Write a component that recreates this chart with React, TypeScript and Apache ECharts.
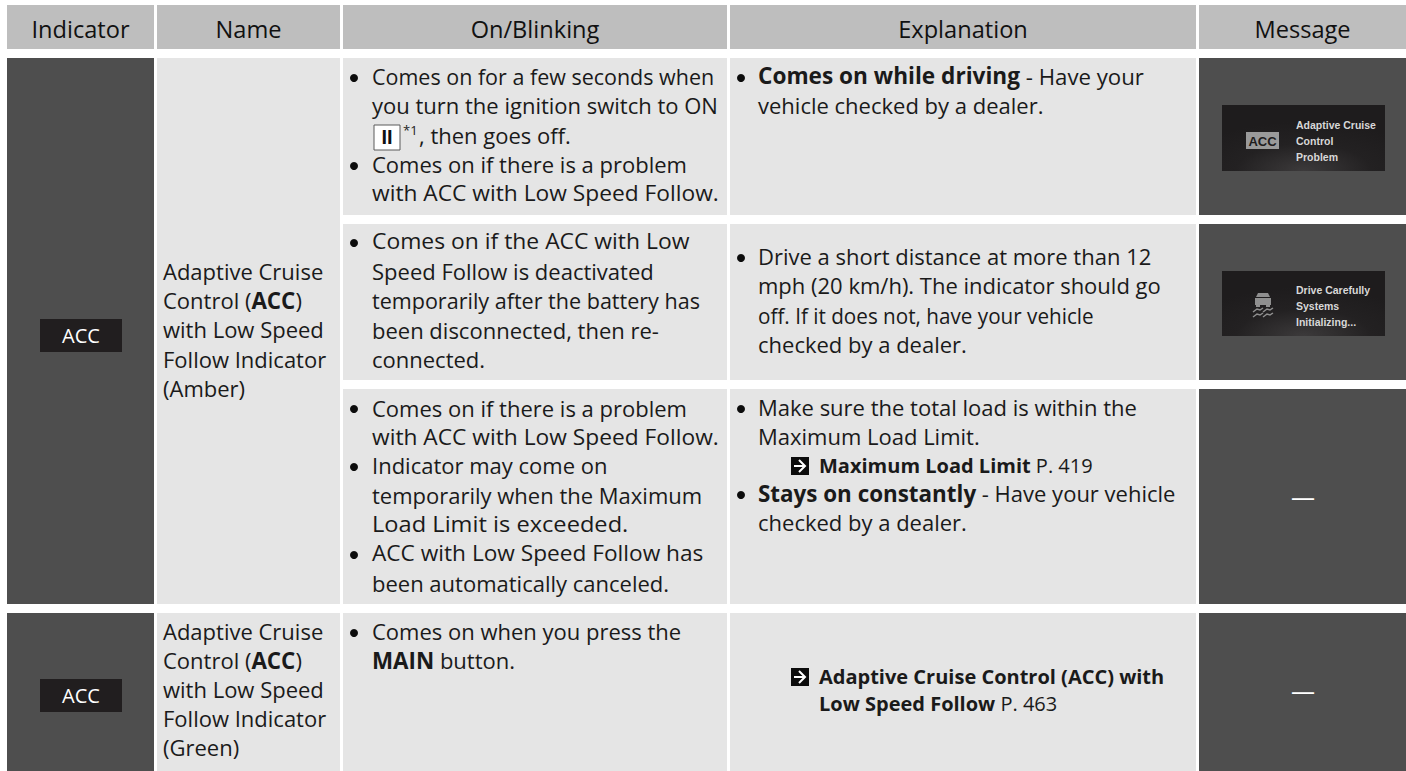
import React, { useEffect, useRef } from "react";
import * as echarts from "echarts";

const headers = ["Indicator", "Name", "On/Blinking", "Explanation", "Message"];
const indicatorLabel = "ACC";
const nameAmber = ["Adaptive Cruise", "Control (**ACC**)", "with Low Speed", "Follow Indicator", "(Amber)"];
const nameGreen = ["Adaptive Cruise", "Control (**ACC**)", "with Low Speed", "Follow Indicator", "(Green)"];
const onBlink1 = ["Comes on for a few seconds when", "you turn the ignition switch to ON", "", "Comes on if there is a problem", "with ACC with Low Speed Follow."];
const ignitionMark = "II";
const ignitionNote = "*1";
const ignitionTail = ", then goes off.";
const onBlink2 = ["Comes on if the ACC with Low", "Speed Follow is deactivated", "temporarily after the battery has", "been disconnected, then re-", "connected."];
const onBlink3 = ["Comes on if there is a problem", "with ACC with Low Speed Follow.", "Indicator may come on", "temporarily when the Maximum", "Load Limit is exceeded.", "ACC with Low Speed Follow has", "been automatically canceled."];
const onBlink4 = ["Comes on when you press the", "**MAIN** button."];
const explain1 = ["**Comes on while driving** - Have your", "vehicle checked by a dealer."];
const explain2 = ["Drive a short distance at more than 12", "mph (20 km/h). The indicator should go", "off. If it does not, have your vehicle", "checked by a dealer."];
const explain3 = ["Make sure the total load is within the", "Maximum Load Limit."];
const explain3Ref = "**Maximum Load Limit** P. 419";
const explain3b = ["**Stays on constantly** - Have your vehicle", "checked by a dealer."];
const explain4Ref = ["**Adaptive Cruise Control (ACC) with**", "**Low Speed Follow** P. 463"];
const messageA = ["Adaptive Cruise", "Control", "Problem"];
const messageB = ["Drive Carefully", "Systems", "Initializing..."];
const noMessage = "—";

const FONT = "'Open Sans'";
const INK = "#1a1a1a";
const HEAD = "#bebebe";
const LIGHT = "#e5e5e5";
const DARK = "#4e4e4e";
const SIZE = 22;
const BOLD = 22.4;
const OFF = -2;

// horizontal fit of the few lines whose metrics differ most from the substitute font
const lineFit: Record<string, number> = {
  "with ACC with Low Speed Follow.": 1.035,
  "Comes on if the ACC with Low": 1.04,
  "Load Limit is exceeded.": 1.075,
  "ACC with Low Speed Follow has": 1.03,
  "off. If it does not, have your vehicle": 0.94,
  "Comes on for a few seconds when": 0.977,
  "temporarily after the battery has": 0.98,
  "**Comes on while driving** - Have your": 1.01,
};

const toRich = (s: string) =>
  s.split("**").map((p, i) => (p === "" ? "" : `{${i % 2 ? "b" : "r"}|${p}}`)).join("");

const rect = (x: number, y: number, x2: number, y2: number, fill: any) => ({
  type: "rect", shape: { x, y, width: x2 - x, height: y2 - y }, style: { fill }, silent: true,
});

const line = (s: string, x: number, y: number, size = SIZE, fill = INK, align = "left", bold = size === SIZE ? BOLD : size) => ({
  type: "text", silent: true, x, y: y + OFF, scaleX: lineFit[s] ?? 1,
  style: {
    text: toRich(s), x: 0, y: 0, fill, align, verticalAlign: "middle", fontFamily: FONT, fontSize: size,
    rich: {
      r: { fontFamily: FONT, fontSize: size, fill, fontWeight: 400 },
      b: { fontFamily: FONT, fontSize: bold, fill, fontWeight: 700 },
    },
  },
});

const bullet = (x: number, y: number) => ({
  type: "circle", shape: { cx: x, cy: y, r: 4 }, style: { fill: "#0c0c0c" }, silent: true,
});

const block = (lines: string[], x: number, ys: number[]) =>
  lines.map((s, i) => (s ? line(s, x, ys[i]) : null)).filter(Boolean);

const arrow = (x: number, y: number) => ({
  type: "group", silent: true,
  children: [
    rect(x, y, x + 18, y + 18, "#0c0c0c"),
    { type: "polyline", shape: { points: [[x + 3, y + 9], [x + 14, y + 9]] }, style: { stroke: "#fff", lineWidth: 2, fill: "none" } },
    { type: "polyline", shape: { points: [[x + 8, y + 3], [x + 14, y + 9], [x + 8, y + 15]] }, style: { stroke: "#fff", lineWidth: 2, fill: "none" } },
  ],
});

const thumbFill = {
  type: "radial", x: 0.5, y: 1.0, r: 0.75,
  colorStops: [{ offset: 0, color: "#3c3a3b" }, { offset: 0.55, color: "#232122" }, { offset: 1, color: "#1e1c1d" }],
};

const thumbText = (lines: string[], x: number, ys: number[]) =>
  lines.map((s, i) => ({
    type: "text", silent: true,
    style: { text: s, x, y: ys[i], fill: "#d8d8d8", fontFamily: "'Liberation Sans'", fontSize: 10.5, fontWeight: 700, verticalAlign: "middle" },
  }));

const carIcon = (cx: number, top: number) => {
  const g = "#8f8f8f";
  const wave = (dy: number, dx: number) => ({
    type: "polyline",
    shape: { points: [[cx + dx - 5, top + dy + 4], [cx + dx - 1, top + dy + 1], [cx + dx + 2, top + dy + 2], [cx + dx + 5, top + dy]] },
    style: { stroke: g, lineWidth: 1.5, fill: "none" },
  });
  return {
    type: "group", silent: true,
    children: [
      { type: "polygon", shape: { points: [[cx - 5, top], [cx + 5, top], [cx + 7, top + 4], [cx - 7, top + 4]] }, style: { fill: g } },
      rect(cx - 8, top + 5, cx + 8, top + 12, g),
      rect(cx - 7, top + 12, cx - 3, top + 14, g),
      rect(cx + 3, top + 12, cx + 7, top + 14, g),
      wave(15, -5), wave(15, 5), wave(20, -5), wave(20, 5),
    ],
  };
};

function buildGraphics() {
  const els: any[] = [];
  const cols = [[7, 154], [157, 340], [343, 727], [730, 1196], [1199, 1406]];
  cols.forEach(([a, b], i) => {
    els.push(rect(a, 5, b, 49, HEAD));
    els.push(line(headers[i], (a + b) / 2, 31, 23.6, "#111", "center"));
  });
  const rows = [[58, 215], [224, 380], [389, 604], [613, 771]];
  els.push(rect(7, 58, 154, 604, DARK), rect(7, 613, 154, 771, DARK));
  els.push(rect(157, 58, 340, 604, LIGHT), rect(157, 613, 340, 771, LIGHT));
  rows.forEach(([a, b]) => {
    els.push(rect(343, a, 727, b, LIGHT), rect(730, a, 1196, b, LIGHT), rect(1199, a, 1406, b, DARK));
  });
  [319, 679].forEach((y) => {
    els.push(rect(40, y, 122, y + 33, "#211e1f"));
    els.push(line(indicatorLabel, 81, y + 18, 20, "#fff", "center"));
  });
  els.push(...block(nameAmber, 163, [273, 302, 331, 361, 390]));
  els.push(...block(nameGreen, 163, [633, 662, 691, 720, 749]));
  const tx = 372;
  const bx = 354;
  els.push(...block(onBlink1, tx, [78, 107, 137, 166, 195]));
  els.push(bullet(bx, 78), bullet(bx, 166));
  els.push({
    type: "rect", shape: { x: 374, y: 125, width: 26, height: 25 }, style: { fill: "#fff", stroke: "#5a5a5a", lineWidth: 1 }, silent: true,
  });
  els.push({
    type: "text", silent: true,
    style: { text: ignitionMark, x: 387, y: 137, fill: "#111", align: "center", verticalAlign: "middle", fontFamily: "'Liberation Sans'", fontSize: 20, fontWeight: 700 },
  });
  els.push(line(ignitionNote, 403, 132, 13, "#222"));
  els.push(line(ignitionTail, 419, 137));
  els.push(...block(onBlink2, tx, [243, 273, 302, 332, 361]));
  els.push(bullet(bx, 243));
  els.push(...block(onBlink3, tx, [410, 439, 467, 497, 526, 555, 585]));
  els.push(bullet(bx, 409), bullet(bx, 467), bullet(bx, 555));
  els.push(...block(onBlink4, tx, [633, 662]));
  els.push(bullet(bx, 633));
  const ex = 758;
  const ebx = 741;
  els.push(...block(explain1, ex, [78, 107]));
  els.push(bullet(ebx, 78));
  els.push(...block(explain2, ex, [258, 287, 317, 346]));
  els.push(bullet(ebx, 258));
  els.push(...block(explain3, ex, [409, 438]));
  els.push(bullet(ebx, 409));
  els.push(arrow(791, 457), line(explain3Ref, 819, 467, 20));
  els.push(...block(explain3b, ex, [495, 524]));
  els.push(bullet(ebx, 495));
  els.push(arrow(791, 668));
  explain4Ref.forEach((s, i) => els.push(line(s, 819, [678, 705][i], 20)));
  els.push(rect(1222, 105, 1385, 171, thumbFill));
  els.push(rect(1246, 132, 1279, 149, "#9a9a9a"));
  els.push({
    type: "text", silent: true,
    style: { text: indicatorLabel, x: 1262.5, y: 141, fill: "#1e1c1d", align: "center", verticalAlign: "middle", fontFamily: "'Liberation Sans'", fontSize: 13, fontWeight: 700 },
  });
  els.push(...thumbText(messageA, 1296, [125, 141, 157]));
  els.push(rect(1222, 271, 1385, 336, thumbFill));
  els.push(carIcon(1263, 293));
  els.push(...thumbText(messageB, 1296, [290, 306, 322]));
  els.push(line(noMessage, 1303, 498, 24, "#fff", "center"));
  els.push(line(noMessage, 1303, 692, 24, "#fff", "center"));
  return els;
}

export default function App() {
  const ref = useRef<HTMLDivElement>(null);
  useEffect(() => {
    document.body.style.margin = "0";
    const chart = echarts.init(ref.current!, undefined, { renderer: "svg" });
    chart.setOption({ animation: false, backgroundColor: "#fff", graphic: { elements: buildGraphics() } });
    return () => chart.dispose();
  }, []);
  return <div ref={ref} style={{ width: 1406, height: 771 }} />;
}
